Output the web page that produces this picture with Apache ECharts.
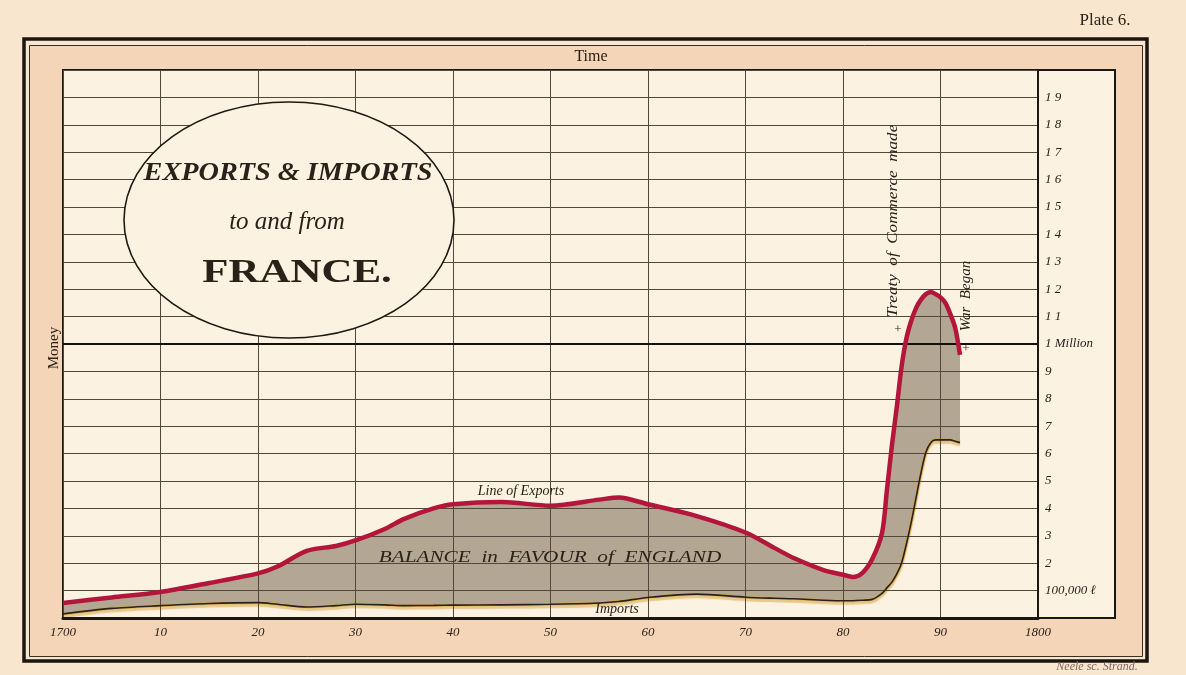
<!DOCTYPE html>
<html>
<head>
<meta charset="utf-8">
<script src="https://cdn.jsdelivr.net/npm/echarts@6/dist/echarts.min.js"></script>
<style>
html,body{margin:0;padding:0;background:#f9e6cf;}
#c{width:1186px;height:675px;}
</style>
</head>
<body>
<div id="c"></div>
<script>
// Years (fractional where the curve turns sharply)
const years = [1700,1705,1710,1715,1720,1722,1725,1728,1730,1733,1735,1738,1740,1745,1750,1755,1757,1760,1765,1770,1773,1775,1778,1780,1781,1782,1783,1784,1784.5,1785,1785.5,1786,1786.5,1787,1787.5,1788,1788.5,1789,1789.5,1790,1790.5,1791,1791.5,1792];
// Values in thousands of pounds
const exportsK = [55,75,95,128,163,188,245,263,283,325,362,400,415,423,410,432,440,415,372,312,255,218,175,158,150,165,215,310,465,625,765,915,1020,1085,1132,1162,1182,1190,1182,1170,1150,1110,1060,960];
const importsK = [15,35,45,53,56,50,40,45,50,48,45,46,47,48,50,55,60,75,87,76,72,70,65,63,63,65,68,90,110,130,160,200,270,350,440,530,605,640,650,650,650,650,645,640];
const xTickLabels = ['1700','10','20','30','40','50','60','70','80','90','1800'];
const yTickLabels = ['','100,000 ℓ','2','3','4','5','6','7','8','9','1 Million','1 1','1 2','1 3','1 4','1 5','1 6','1 7','1 8','1 9',''];

const expPairs = years.map((y,i)=>[y, exportsK[i]]);
const impPairs = years.map((y,i)=>[y, importsK[i]]);

const SERIF = '"Liberation Serif","DejaVu Serif",serif';
const INK = '#2a2219';
const PLOT_BG = '#fcf2e2';
const SM = 0.3;

function txt(text, x, y, font, opts){
  return Object.assign({type:'text', silent:true, z:15, x:x, y:y,
    style:{text:text, font:font, fill:INK, textAlign:'center', textVerticalAlign:'middle'}}, opts||{});
}

const chart = echarts.init(document.getElementById('c'), null, {renderer:'canvas'});
chart.setOption({
  animation:false,
  backgroundColor:'#f9e6cf',
  grid:{left:63, right:148, top:70, bottom:57},
  xAxis:{
    type:'value', min:1700, max:1800, interval:10, z:5,
    axisLine:{show:true, onZero:false, lineStyle:{color:'#1c1611', width:3}},
    axisTick:{show:false},
    splitLine:{show:true, lineStyle:{color:'#54463a', width:1}},
    axisLabel:{
      margin:8, fontFamily:SERIF, fontStyle:'italic', fontSize:13, color:INK,
      formatter:v=>xTickLabels[Math.round((v-1700)/10)] || ''
    }
  },
  yAxis:{
    type:'value', position:'right', min:0, max:2000, interval:100, z:5,
    axisLine:{show:true, lineStyle:{color:'#1c1611', width:2}},
    axisTick:{show:false},
    splitLine:{show:true, lineStyle:{color:'#54463a', width:1}},
    axisLabel:{
      margin:7, align:'left', fontFamily:SERIF, fontStyle:'italic', fontSize:13, color:INK,
      formatter:v=>yTickLabels[Math.round(v/100)] || ''
    }
  },
  series:[
    {name:'Balance', type:'line', data:expPairs, smooth:SM, symbol:'none', silent:true,
     lineStyle:{width:0, opacity:0}, areaStyle:{color:'#b3a692', opacity:1, origin:'start'}, z:1},
    {name:'Below imports', type:'line', data:impPairs, smooth:SM, symbol:'none', silent:true,
     lineStyle:{width:0, opacity:0}, areaStyle:{color:PLOT_BG, opacity:1, origin:'start'}, z:2},
    {name:'Imports wash', type:'line', data:impPairs, smooth:SM, symbol:'none', silent:true,
     lineStyle:{color:'rgba(214,168,70,0.75)', width:3, shadowColor:'rgba(214,168,70,0.75)', shadowBlur:1, shadowOffsetY:2.5}, z:3},
    {name:'Million line', type:'line', data:[], symbol:'none', z:6,
     markLine:{silent:true, symbol:'none', label:{show:false},
       lineStyle:{color:'#15100c', width:2.2, type:'solid'}, data:[{yAxis:1000}]}},
    {name:'Imports', type:'line', data:impPairs, smooth:SM, symbol:'none', silent:true,
     lineStyle:{color:'#2a2219', width:1.6}, z:12},
    {name:'Exports', type:'line', data:expPairs, smooth:SM, symbol:'none', silent:true,
     lineStyle:{color:'#b3163a', width:4.5}, z:13}
  ],
  graphic:[
    {type:'rect', silent:true, z:-30, shape:{x:24, y:39, width:1123, height:622},
     style:{fill:'#f9e6cf', stroke:'#1c1611', lineWidth:3.5}},
    {type:'rect', silent:true, z:-29, shape:{x:29.5, y:45.5, width:1113, height:611},
     style:{fill:'#f4d5b8', stroke:'#3a2e24', lineWidth:1}},
    {type:'rect', silent:true, z:-28, shape:{x:63, y:70, width:1052, height:548},
     style:{fill:PLOT_BG, stroke:'#1c1611', lineWidth:2}},
    {type:'ellipse', silent:true, z:8, shape:{cx:289, cy:220, rx:165, ry:118},
     style:{fill:PLOT_BG, stroke:'#1f1913', lineWidth:1.6}},
    txt('EXPORTS & IMPORTS', 288, 174, 'italic bold 25px '+SERIF, {z:9, scaleX:1.13}),
    txt('to and from', 287, 222, 'italic 25px '+SERIF, {z:9}),
    txt('FRANCE.', 297, 273, 'bold 33px '+SERIF, {z:9, scaleX:1.3}),
    txt('Line of Exports', 521, 491, 'italic 14px '+SERIF),
    txt('BALANCE  in  FAVOUR  of  ENGLAND', 550, 558, 'italic 17px '+SERIF, {scaleX:1.25}),
    txt('Imports', 617, 609, 'italic 14px '+SERIF),
    txt('Treaty  of  Commerce  made', 893, 221, 'italic 15px '+SERIF, {rotation:Math.PI/2, scaleX:1.14}),
    txt('+', 898, 330, '13px '+SERIF),
    txt('War  Began', 966, 296, 'italic 15px '+SERIF, {rotation:Math.PI/2}),
    txt('+', 966, 349, '13px '+SERIF),
    txt('Time', 591, 57, '16px '+SERIF),
    txt('Money', 54, 348, '15px '+SERIF, {rotation:Math.PI/2}),
    txt('Plate 6.', 1105, 21, '17px '+SERIF),
    txt('Neele sc. Strand.', 1097, 667, 'italic 12px '+SERIF, {style:{text:'Neele sc. Strand.', font:'italic 12px '+SERIF, fill:'#7a6a5e', textAlign:'center', textVerticalAlign:'middle'}})
  ]
});
</script>
</body>
</html>
